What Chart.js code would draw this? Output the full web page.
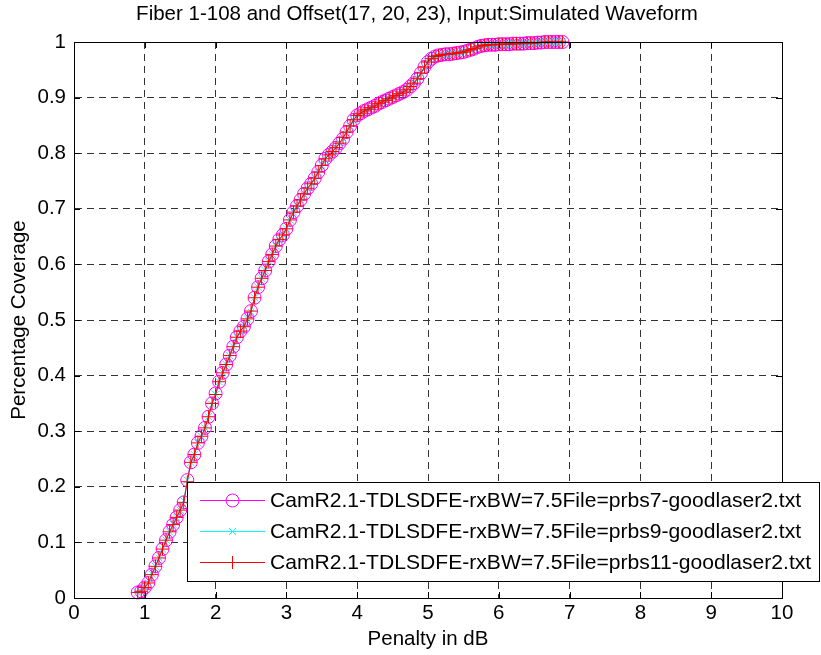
<!DOCTYPE html>
<html><head><meta charset="utf-8">
<script src="https://cdn.jsdelivr.net/npm/chart.js@4/dist/chart.umd.min.js"></script>
<style>html,body{margin:0;padding:0;background:#fff;overflow:hidden}#wrap{width:821px;height:655px;position:relative}</style>
</head><body><div id="wrap"><canvas id="c" width="821" height="655"></canvas></div>
<script>
const chartTitle = "Fiber 1-108 and Offset(17, 20, 23), Input:Simulated Waveform";
const xAxisTitle = "Penalty in dB";
const yAxisTitle = "Percentage Coverage";
const seriesNames = [
  "CamR2.1-TDLSDFE-rxBW=7.5File=prbs7-goodlaser2.txt",
  "CamR2.1-TDLSDFE-rxBW=7.5File=prbs9-goodlaser2.txt",
  "CamR2.1-TDLSDFE-rxBW=7.5File=prbs11-goodlaser2.txt"
];
const xTickValues = [0,1,2,3,4,5,6,7,8,9,10];
const xTickLabels = ["0","1","2","3","4","5","6","7","8","9","10"];
const yTickValues = [0,0.1,0.2,0.3,0.4,0.5,0.6,0.7,0.8,0.9,1];
const yTickLabels = ["0","0.1","0.2","0.3","0.4","0.5","0.6","0.7","0.8","0.9","1"];

const penalty = [0.9,0.95,1,1.05,1.1,1.15,1.2,1.25,1.3,1.35,1.4,1.45,1.5,1.55,1.6,1.65,1.7,1.75,1.8,1.85,
1.9,1.95,2,2.05,2.1,2.15,2.2,2.25,2.3,2.35,2.4,2.45,2.5,2.55,2.6,2.65,2.7,2.75,2.8,2.85,
2.9,2.95,3,3.05,3.1,3.15,3.2,3.25,3.3,3.35,3.4,3.45,3.5,3.55,3.6,3.65,3.7,3.75,3.8,3.85,
3.9,3.95,4,4.05,4.1,4.15,4.2,4.25,4.3,4.35,4.4,4.45,4.5,4.55,4.6,4.65,4.7,4.75,4.8,4.85,
4.9,4.95,5,5.05,5.1,5.15,5.2,5.25,5.3,5.35,5.4,5.45,5.5,5.55,5.6,5.65,5.7,5.75,5.8,5.85,
5.9,5.95,6,6.05,6.1,6.15,6.2,6.25,6.3,6.35,6.4,6.45,6.5,6.55,6.6,6.65,6.7,6.75,6.8,6.85,6.9];

const prbs7 = [0.010,0.012,0.019,0.027,0.042,0.057,0.072,0.088,0.104,0.119,0.132,0.145,0.158,0.172,0.212,0.244,0.258,0.279,0.291,0.306,
0.326,0.350,0.368,0.389,0.405,0.420,0.436,0.452,0.469,0.480,0.488,0.502,0.516,0.540,0.559,0.575,0.589,0.605,0.618,0.633,
0.645,0.653,0.664,0.680,0.694,0.705,0.716,0.727,0.737,0.745,0.755,0.766,0.778,0.790,0.797,0.803,0.810,0.818,0.826,0.838,
0.849,0.860,0.868,0.872,0.876,0.879,0.882,0.885,0.889,0.892,0.895,0.898,0.901,0.904,0.907,0.910,0.914,0.920,0.926,0.934,
0.944,0.955,0.964,0.970,0.974,0.976,0.977,0.978,0.978,0.979,0.980,0.981,0.982,0.984,0.986,0.988,0.991,0.993,0.994,0.995,
0.995,0.995,0.996,0.996,0.996,0.996,0.997,0.997,0.997,0.997,0.998,0.998,0.998,0.999,0.999,1,1,1,1,1,1];

const prbs9 = [0.010,0.012,0.019,0.027,0.043,0.057,0.072,0.088,0.104,0.119,0.133,0.145,0.158,0.175,0.212,0.244,0.258,0.279,0.291,0.306,
0.326,0.348,0.366,0.389,0.405,0.420,0.436,0.452,0.469,0.480,0.488,0.502,0.514,0.540,0.559,0.575,0.589,0.605,0.618,0.633,
0.645,0.653,0.664,0.680,0.694,0.705,0.716,0.725,0.737,0.745,0.755,0.766,0.778,0.790,0.797,0.803,0.810,0.818,0.826,0.838,
0.849,0.860,0.868,0.873,0.876,0.879,0.882,0.885,0.889,0.892,0.895,0.898,0.901,0.904,0.907,0.910,0.914,0.920,0.926,0.934,
0.944,0.955,0.964,0.970,0.974,0.976,0.977,0.978,0.978,0.979,0.980,0.981,0.982,0.984,0.986,0.988,0.991,0.993,0.994,0.995,
0.995,0.995,0.996,0.996,0.996,0.996,0.997,0.997,0.997,0.997,0.998,0.998,0.998,0.999,0.999,1,1,1,1,1,1];

const prbs11 = [0.010,0.012,0.019,0.027,0.042,0.057,0.072,0.088,0.104,0.119,0.132,0.145,0.158,0.172,0.209,0.244,0.258,0.279,0.291,0.306,
0.326,0.350,0.366,0.389,0.405,0.420,0.436,0.452,0.469,0.480,0.488,0.502,0.516,0.540,0.559,0.575,0.589,0.605,0.618,0.633,
0.645,0.653,0.664,0.680,0.694,0.705,0.716,0.727,0.737,0.745,0.755,0.766,0.778,0.790,0.797,0.803,0.810,0.818,0.828,0.838,
0.849,0.860,0.868,0.872,0.876,0.879,0.882,0.885,0.889,0.892,0.895,0.898,0.901,0.904,0.907,0.910,0.914,0.920,0.926,0.934,
0.944,0.955,0.964,0.970,0.974,0.976,0.977,0.978,0.978,0.979,0.980,0.981,0.982,0.984,0.986,0.988,0.991,0.993,0.994,0.995,
0.995,0.995,0.996,0.996,0.996,0.996,0.997,0.997,0.997,0.997,0.998,0.998,0.998,0.999,0.999,1,1,1,1,1,1];

const FONT = "'Liberation Sans', Arial, Helvetica, sans-serif";
const FS = 20.5;
const LEG_FS = 21.1;
const colors = ['#FF00FF', '#00FFFF', '#FF0000'];
const styles = [
  {pointStyle: 'circle', radius: 6.5},
  {pointStyle: 'crossRot', radius: 5},
  {pointStyle: 'cross', radius: 6.5}
];
const seriesData = [prbs7, prbs9, prbs11];

function mkPoints(ys) { return penalty.map((x, i) => ({x: x, y: ys[i]})); }

function drawMarker(ctx, style, color, x, y, r) {
  ctx.save();
  ctx.strokeStyle = color; ctx.lineWidth = 1;
  ctx.beginPath();
  if (style === 'circle') { ctx.arc(x, y, r, 0, Math.PI * 2); }
  else if (style === 'cross') { ctx.moveTo(x - r, y); ctx.lineTo(x + r, y); ctx.moveTo(x, y - r); ctx.lineTo(x, y + r); }
  else { const d = r * Math.SQRT1_2; ctx.moveTo(x - d, y - d); ctx.lineTo(x + d, y + d); ctx.moveTo(x - d, y + d); ctx.lineTo(x + d, y - d); }
  ctx.stroke();
  ctx.restore();
}

const decor = {
  id: 'decor',
  afterDatasetsDraw(chart) {
    const ctx = chart.ctx; const a = chart.chartArea;
    const xs = chart.scales.x, ys = chart.scales.y;
    ctx.save();
    ctx.strokeStyle = '#000'; ctx.lineWidth = 1;
    ctx.beginPath();
    xTickValues.forEach(v => { const px = Math.round(xs.getPixelForValue(v)) + 0.5;
      ctx.moveTo(px, a.bottom); ctx.lineTo(px, a.bottom - 6); ctx.moveTo(px, a.top); ctx.lineTo(px, a.top + 6); });
    yTickValues.forEach(v => { const py = Math.round(ys.getPixelForValue(v)) + 0.5;
      ctx.moveTo(a.left, py); ctx.lineTo(a.left + 6, py); ctx.moveTo(a.right, py); ctx.lineTo(a.right - 6, py); });
    ctx.stroke();
    ctx.strokeRect(Math.round(a.left) + 0.5, Math.round(a.top) + 0.5, Math.round(a.right - a.left), Math.round(a.bottom - a.top));
    ctx.fillStyle = '#000'; ctx.font = FS + 'px ' + FONT;
    ctx.textAlign = 'center'; ctx.textBaseline = 'middle';
    ctx.fillText(chartTitle, 417, 14);
    const L = 187.5, T = 482.5, R = 819.5, B = 581.5;
    ctx.fillStyle = '#fff'; ctx.fillRect(L, T, R - L, B - T);
    ctx.strokeStyle = '#000'; ctx.strokeRect(L, T, R - L, B - T);
    const rows = [500, 531, 562];
    ctx.font = LEG_FS + 'px ' + FONT; ctx.textAlign = 'left';
    seriesNames.forEach((name, i) => {
      const y = rows[i] + 0.5;
      ctx.strokeStyle = colors[i]; ctx.lineWidth = 1;
      ctx.beginPath(); ctx.moveTo(200, y); ctx.lineTo(265, y); ctx.stroke();
      drawMarker(ctx, styles[i].pointStyle, colors[i], 232.5, y, styles[i].radius);
      ctx.fillStyle = '#000';
      ctx.fillText(name, 270, rows[i] + 1);
    });
    ctx.restore();
  }
};

new Chart(document.getElementById('c'), {
  type: 'scatter',
  data: {
    datasets: seriesData.map((ys, i) => ({
      label: seriesNames[i],
      data: mkPoints(ys),
      showLine: true,
      borderColor: colors[i],
      backgroundColor: 'rgba(0,0,0,0)',
      borderWidth: 1,
      pointStyle: styles[i].pointStyle,
      pointRadius: styles[i].radius,
      pointBorderWidth: 1,
      pointBorderColor: colors[i],
      pointBackgroundColor: 'rgba(0,0,0,0)',
      pointHoverRadius: styles[i].radius,
      tension: 0,
      clip: false,
      order: 3 - i
    }))
  },
  options: {
    responsive: false, animation: false, devicePixelRatio: 1,
    layout: {padding: {top: 42, right: 39, left: 0, bottom: 0}},
    plugins: {legend: {display: false}, tooltip: {enabled: false}, title: {display: false}},
    scales: {
      x: {
        type: 'linear', min: 0, max: 10,
        afterBuildTicks: s => { s.ticks = xTickValues.map(v => ({value: v})); },
        afterFit: s => { s.height = 57; },
        ticks: {callback: (v, i) => xTickLabels[i], color: '#000', font: {family: FONT, size: FS}, padding: 3, maxRotation: 0, autoSkip: false},
        grid: {color: '#333', lineWidth: 1, drawTicks: false},
        border: {display: true, color: '#000', width: 1, dash: [7, 5]},
        title: {display: true, text: xAxisTitle, color: '#000', font: {family: FONT, size: FS}, padding: {top: 0, bottom: 3}}
      },
      y: {
        type: 'linear', min: 0, max: 1,
        afterBuildTicks: s => { s.ticks = yTickValues.map(v => ({value: v})); },
        afterFit: s => { s.width = 74; },
        ticks: {callback: (v, i) => yTickLabels[i], color: '#000', font: {family: FONT, size: FS}, padding: 8, autoSkip: false},
        grid: {color: '#333', lineWidth: 1, drawTicks: false},
        border: {display: true, color: '#000', width: 1, dash: [7, 5]},
        title: {display: true, text: yAxisTitle, color: '#000', font: {family: FONT, size: FS}, padding: {top: 7, bottom: 0}}
      }
    }
  },
  plugins: [decor]
});
</script>
</body></html>
